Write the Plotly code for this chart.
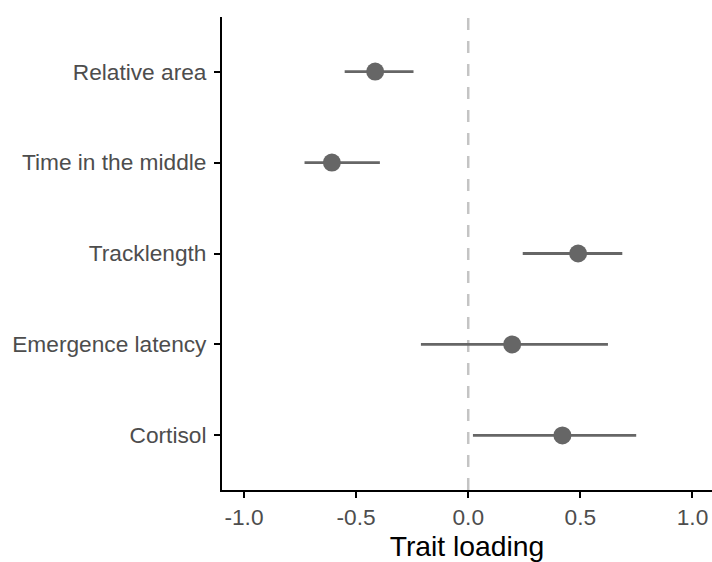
import plotly.graph_objects as go

traits = ["Relative area", "Time in the middle", "Tracklength", "Emergence latency", "Cortisol"]
estimate = [-0.415, -0.608, 0.490, 0.196, 0.420]
lower = [-0.551, -0.730, 0.243, -0.211, 0.021]
upper = [-0.244, -0.394, 0.687, 0.623, 0.749]
x_ticks = [-1.0, -0.5, 0.0, 0.5, 1.0]
x_tick_labels = ["-1.0", "-0.5", "0.0", "0.5", "1.0"]

err_plus = [u - e for u, e in zip(upper, estimate)]
err_minus = [e - l for e, l in zip(estimate, lower)]

font_family = "Liberation Sans, Arial, Helvetica, sans-serif"
pt_color = "#666666"

fig = go.Figure()
fig.add_trace(go.Scatter(
    x=estimate, y=traits, mode="markers",
    marker=dict(size=18, color=pt_color),
    error_x=dict(type="data", symmetric=False, array=err_plus, arrayminus=err_minus,
                 width=0, thickness=2.8, color=pt_color),
    showlegend=False, hoverinfo="x+y",
))

fig.add_shape(type="line", xref="x", yref="paper", x0=0, x1=0, y0=0, y1=1,
              line=dict(color="#c4c4c4", width=2.5, dash="12px,11px"), layer="below")

fig.update_layout(
    width=712, height=562,
    margin=dict(l=222, r=0, t=17, b=70),
    paper_bgcolor="white", plot_bgcolor="white",
    font=dict(family=font_family, size=22.7, color="#4d4d4d"),
    xaxis=dict(
        range=[-1.098, 1.087], tickvals=x_ticks, ticktext=x_tick_labels,
        showgrid=False, zeroline=False,
        showline=True, linecolor="black", linewidth=2,
        ticks="outside", ticklen=6, tickwidth=2, tickcolor="black",
        tickfont=dict(size=22.7, color="#4d4d4d"),
        title=dict(text="Trait loading", font=dict(size=28.3, color="black"), standoff=12),
    ),
    yaxis=dict(
        type="category", categoryorder="array", categoryarray=traits[::-1],
        range=[-0.6, 4.6],
        showgrid=False, zeroline=False,
        showline=True, linecolor="black", linewidth=2,
        ticks="outside", ticklen=6, tickwidth=2, tickcolor="black",
        tickfont=dict(size=22.7, color="#4d4d4d"),
        ticklabelstandoff=3,
    ),
)

fig.write_html("out.html")
